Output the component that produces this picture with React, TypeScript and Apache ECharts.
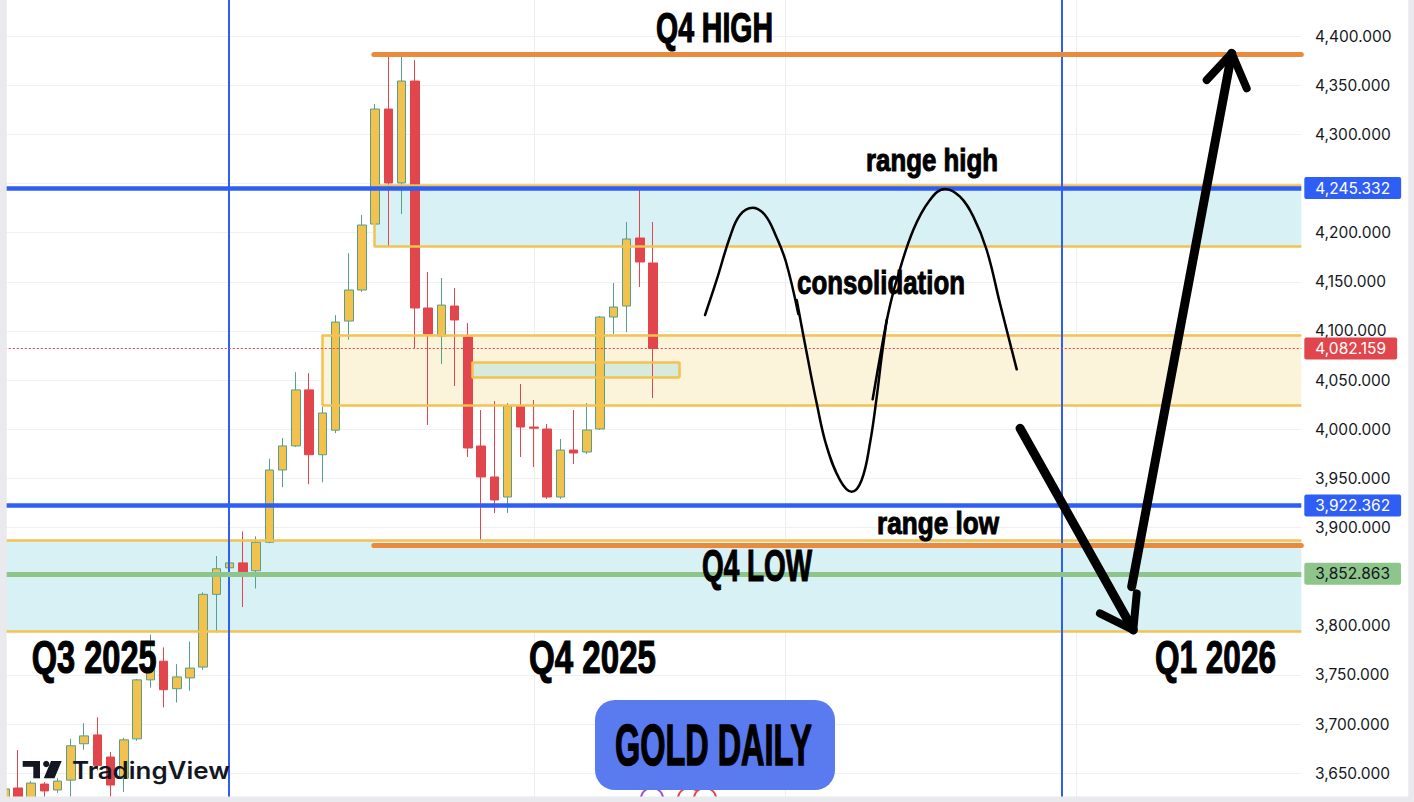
import React, { useEffect, useRef } from "react";
import * as echarts from "echarts";

// Trading-day slots: filled candles on the left, empty future space on the right
const SLOTS: string[] = Array.from({ length: 99 }, (_, i) => `${i + 1}`);

// Daily candles, [open, close, low, high]
const CANDLES: number[][] = [
  [3618, 3634, 3612, 3638],
  [3635, 3620, 3612, 3673.6],
  [3622, 3640, 3615, 3642],
  [3639, 3632, 3623, 3641],
  [3633, 3642, 3630, 3645],
  [3643, 3678, 3626, 3685],
  [3680, 3688, 3674, 3701],
  [3689, 3658, 3653, 3707],
  [3666.5, 3638, 3626, 3671.6],
  [3645, 3684, 3631, 3686],
  [3685, 3745, 3683, 3746],
  [3745, 3757, 3737, 3791],
  [3764, 3735, 3717, 3778],
  [3736, 3748, 3722, 3761],
  [3747, 3757, 3734, 3784],
  [3758, 3832, 3755, 3834],
  [3832, 3858, 3793, 3871],
  [3859, 3864, 3857, 3894],
  [3864, 3855, 3819, 3896],
  [3856, 3885, 3838, 3891],
  [3885, 3958.5, 3884, 3970],
  [3958.5, 3983, 3941, 3991],
  [3983, 4040, 3982, 4058],
  [4040, 3974, 3944, 4057],
  [3974, 4016.5, 3946, 4023],
  [3999, 4109, 3996, 4116],
  [4110, 4141.6, 4091, 4179],
  [4141.6, 4207.7, 4139.6, 4218],
  [4208.7, 4325.7, 4199.6, 4330.8],
  [4325.7, 4250.5, 4185.3, 4379.7],
  [4250.5, 4354.2, 4218.9, 4381],
  [4354.2, 4123.3, 4082.6, 4375.6],
  [4123.3, 4096.8, 4004.3, 4159.9],
  [4094.8, 4126.3, 4066.3, 4153.8],
  [4125.3, 4111.1, 4043.9, 4143.6],
  [4093.8, 3980.9, 3971.7, 4108],
  [3982.9, 3951.4, 3886, 4019.5],
  [3951.4, 3928, 3914.7, 4028.7],
  [3931, 4023.6, 3914.7, 4026.6],
  [4023.6, 4002.2, 3971.7, 4045.9],
  [4002.2, 4001, 3961.5, 4029.7],
  [4000.2, 3931, 3929, 4005.3],
  [3931, 3978.8, 3929, 3990],
  [3978.8, 3975.8, 3964.6, 4019.5],
  [3976.8, 3999.2, 3974.8, 4026.6],
  [4000.2, 4114.1, 3999.2, 4115],
  [4114.1, 4124.3, 4096.8, 4148.7],
  [4125.3, 4193.5, 4098.9, 4210.8],
  [4194.5, 4170.1, 4144.7, 4244.4],
  [4169.1, 4082.159, 4031.7, 4210.8],
];

// Price scale; the outer ticks sit beyond the visible pane
const PRICE_MIN = 3600;
const PRICE_MAX = 4450;
const PRICE_STEP = 50;
// Tick labels that stay hidden (off the pane or under the support badge)
const HIDDEN_TICKS = [3600, 3850, 4450];

// Vertical guides
const MONTH_SPLITS = [40, 59, 81];
const QUARTER_SPLITS = [16.95, 79.9];

// Horizontal levels
const RANGE_HIGH = 4245.332;
const RANGE_LOW = 3922.362;
const LAST_CLOSE = 4082.159;
const SUPPORT = 3852.863;
const Q4_HIGH = 4381;
const Q4_LOW = 3882;
const Q4_LEVEL_FROM = 27.9;

// Boxes: [from slot, to slot, top price, bottom price]
const BOX_RANGE_TOP = [27.9, 98, 4248, 4186];
const BOX_VALUE_AREA = [23.96, 98, 4095.8, 4024.6];
const BOX_GAP = [35.3, 51.0, 4068.4, 4052.6];
const BOX_SUPPORT = [0, 98, 3886.8, 3794.2];

// Hand-drawn consolidation wave, [slot, price]
const WAVE_A: number[][] = [
  [52.93, 4116.2], [53.81, 4151.8], [54.82, 4195.8], [55.57, 4217.9], [56.53, 4225.3],
  [57.46, 4217.9], [58.29, 4196.5], [59.05, 4170.1], [59.98, 4117.2],
];
const WAVE_B: number[][] = [
  [59.86, 4131.4], [60.62, 4077.2], [61.37, 4026.3], [62.13, 3982.2], [63.13, 3948.3],
  [64.02, 3936.4], [64.77, 3948.3], [65.4, 3985.9], [65.91, 4033.1], [66.28, 4073.8], [66.66, 4111.1],
];
const WAVE_C: number[][] = [
  [65.6, 4030.4], [66.16, 4073.8], [66.78, 4117.9], [67.42, 4151.8], [68.67, 4202.6],
  [69.93, 4233.2], [71.07, 4244.4], [72.2, 4236.5], [73.21, 4216.2], [74.22, 4182.3],
  [75.22, 4128.1], [76.49, 4060.9],
];

// Projection arrows, [slot, price]
const DOWN_SHAFT: number[][] = [[76.74, 4000.9], [85.3, 3795.7]];
const DOWN_HEAD: number[][] = [[82.78, 3812.7], [85.3, 3795.7], [85.56, 3833.0]];
const UP_SHAFT: number[][] = [[85.18, 3839.8], [92.74, 4382.4]];
const UP_HEAD: number[][] = [[90.85, 4355.2], [92.74, 4382.4], [93.87, 4346.8]];

const BLUE = "#2f5ef5";
const ORANGE = "#e98a3c";
const GOLD_EDGE = "#f3c250";
const RED = "#e0464c";
const GREEN = "#8ec58a";
const TEAL_FILL = "#d8f1f5";
const CREAM_FILL = "#fbf3da";
const MINT_FILL = "#d7eadb";
const UP_FILL = "#f2c14e";
const UP_EDGE = "#55a08b";
const FRAME = "#e9e9ee";

const TITLE_FONT = '"Liberation Sans", Arial, sans-serif';
const UI_FONT = "Inter, Roboto, sans-serif";

function fmtPrice(v: number): string {
  const [i, d] = v.toFixed(3).split(".");
  return i.replace(/\B(?=(\d{3})+(?!\d))/g, ",") + "." + d;
}

let measureCtx: CanvasRenderingContext2D | null = null;
function measure(text: string, font: string): number {
  if (!measureCtx) measureCtx = document.createElement("canvas").getContext("2d");
  if (!measureCtx) return 1;
  measureCtx.font = font;
  return measureCtx.measureText(text).width || 1;
}

function fittedText(
  text: string,
  cx: number,
  cy: number,
  size: number,
  width: number,
  opts: { family?: string; weight?: string | number; color?: string; stroke?: number } = {}
) {
  const family = opts.family ?? TITLE_FONT;
  const weight = opts.weight ?? "bold";
  const color = opts.color ?? "#000";
  const natural = measure(text, `${weight} ${size}px ${family}`);
  return {
    type: "text",
    x: cx,
    y: cy,
    scaleX: width / natural,
    z: 60,
    silent: true,
    style: {
      text,
      fontFamily: family,
      fontWeight: weight,
      fontSize: size,
      fill: color,
      stroke: opts.stroke ? color : undefined,
      lineWidth: opts.stroke ?? 0,
      align: "center",
      verticalAlign: "middle",
    },
  };
}

function boxArea(box: number[], fill: string) {
  return [
    { coord: [box[0], box[2]], itemStyle: { color: fill } },
    { coord: [box[1], box[3]] },
  ];
}

function boxEdges(box: number[], left: boolean, right: boolean) {
  const [x0, x1, top, bottom] = box;
  const edges: any[] = [
    [{ coord: [x0, top] }, { coord: [x1, top] }],
    [{ coord: [x0, bottom] }, { coord: [x1, bottom] }],
  ];
  if (left) edges.push([{ coord: [x0, bottom] }, { coord: [x0, top] }]);
  if (right) edges.push([{ coord: [x1, bottom] }, { coord: [x1, top] }]);
  return edges;
}

function badge(bg: string, fg: string, value: number) {
  return {
    show: true,
    position: "end",
    distance: 3,
    formatter: fmtPrice(value),
    color: fg,
    backgroundColor: bg,
    padding: [3, 11, 3, 11],
    borderRadius: 2,
    fontFamily: UI_FONT,
    fontSize: 15.5,
    lineHeight: 16,
  };
}

function strokeSeries(data: number[][], width: number, smooth: number | boolean) {
  return {
    type: "line",
    xAxisIndex: 1,
    yAxisIndex: 0,
    data,
    smooth,
    symbol: "none",
    silent: true,
    z: 5,
    lineStyle: { color: "#000", width, cap: "round", join: "round" },
  };
}

export default function App() {
  const ref = useRef<HTMLDivElement | null>(null);

  useEffect(() => {
    if (!ref.current) return;
    const chart = echarts.init(ref.current, undefined, { renderer: "svg" });

    const gridLeft = 4.77;
    const gridWidth = 1296.54;
    const pxPerPrice = 0.983;
    const gridTop = 36 - (PRICE_MAX - 4400) * pxPerPrice;
    const gridHeight = (PRICE_MAX - PRICE_MIN) * pxPerPrice;

    const option: any = {
      animation: false,
      backgroundColor: "#ffffff",
      grid: {
        left: gridLeft,
        width: gridWidth,
        top: gridTop,
        height: gridHeight,
        containLabel: false,
        outerBoundsMode: "none",
      },
      xAxis: [
        {
          type: "category",
          data: SLOTS,
          boundaryGap: false,
          axisLine: { show: false },
          axisTick: { show: false },
          axisLabel: { show: false },
          splitLine: {
            show: true,
            interval: (i: number) => MONTH_SPLITS.includes(i),
            lineStyle: { color: "#eeeef1", width: 1 },
          },
        },
        { type: "value", min: 0, max: SLOTS.length - 1, show: false },
      ],
      yAxis: {
        type: "value",
        position: "right",
        min: PRICE_MIN,
        max: PRICE_MAX,
        interval: PRICE_STEP,
        axisLine: { show: false },
        axisTick: { show: false },
        splitLine: { show: true, lineStyle: { color: "#f0f0f3", width: 1 } },
        axisLabel: {
          margin: 13.7,
          align: "left",
          color: "#131722",
          fontFamily: UI_FONT,
          fontSize: 15.5,
          formatter: (v: number) => (HIDDEN_TICKS.includes(v) ? "" : fmtPrice(v)),
        },
      },
      series: [
        {
          // shaded boxes behind the candles
          type: "line",
          xAxisIndex: 1,
          data: [],
          z: 1,
          silent: true,
          markArea: {
            silent: true,
            data: [
              boxArea(BOX_RANGE_TOP, TEAL_FILL),
              boxArea(BOX_VALUE_AREA, CREAM_FILL),
              boxArea(BOX_GAP, MINT_FILL),
              boxArea(BOX_SUPPORT, TEAL_FILL),
            ],
          },
          markLine: {
            silent: true,
            symbol: "none",
            label: { show: false },
            lineStyle: { color: GOLD_EDGE, width: 2.5, type: "solid" },
            data: [
              ...boxEdges(BOX_RANGE_TOP, true, false),
              ...boxEdges(BOX_VALUE_AREA, true, false),
              ...boxEdges(BOX_GAP, true, true),
              ...boxEdges(BOX_SUPPORT, false, false),
            ],
          },
        },
        {
          type: "candlestick",
          xAxisIndex: 0,
          yAxisIndex: 0,
          data: CANDLES,
          barWidth: 9,
          z: 2,
          silent: true,
          itemStyle: {
            color: UP_FILL,
            color0: RED,
            borderColor: UP_EDGE,
            borderColor0: RED,
            borderWidth: 1,
          },
        },
        {
          // price levels and quarter separators
          type: "line",
          xAxisIndex: 1,
          data: [],
          z: 3,
          silent: true,
          markLine: {
            silent: true,
            symbol: "none",
            label: { show: false },
            data: [
              { xAxis: QUARTER_SPLITS[0], lineStyle: { color: BLUE, width: 2, type: "solid" } },
              { xAxis: QUARTER_SPLITS[1], lineStyle: { color: BLUE, width: 2, type: "solid" } },
              [
                { coord: [Q4_LEVEL_FROM, Q4_HIGH], lineStyle: { color: ORANGE, width: 5, type: "solid", cap: "round" } },
                { coord: [SLOTS.length - 1, Q4_HIGH] },
              ],
              [
                { coord: [Q4_LEVEL_FROM, Q4_LOW], lineStyle: { color: ORANGE, width: 5, type: "solid", cap: "round" } },
                { coord: [SLOTS.length - 1, Q4_LOW] },
              ],
              { yAxis: SUPPORT, lineStyle: { color: GREEN, width: 5, type: "solid" }, label: badge(GREEN, "#131722", SUPPORT) },
              { yAxis: LAST_CLOSE, lineStyle: { color: RED, width: 1, type: [2, 2] }, label: badge(RED, "#ffffff", LAST_CLOSE) },
              { yAxis: RANGE_HIGH, lineStyle: { color: BLUE, width: 4.5, type: "solid" }, label: badge(BLUE, "#ffffff", RANGE_HIGH) },
              { yAxis: RANGE_LOW, lineStyle: { color: BLUE, width: 4.5, type: "solid" }, label: badge(BLUE, "#ffffff", RANGE_LOW) },
            ],
          },
        },
        strokeSeries(WAVE_A, 2.5, 0.4),
        strokeSeries(WAVE_B, 2.5, 0.4),
        strokeSeries(WAVE_C, 2.5, 0.4),
        strokeSeries(DOWN_SHAFT, 9, false),
        strokeSeries(DOWN_HEAD, 8, false),
        strokeSeries(UP_SHAFT, 9, false),
        strokeSeries(UP_HEAD, 8, false),
      ],
      graphic: [
        fittedText("Q4 HIGH", 714.5, 27.6, 43, 117, { stroke: 1.2 }),
        fittedText("range high", 932, 160, 31, 132, { stroke: 1 }),
        fittedText("consolidation", 881, 282, 34, 168, { stroke: 1 }),
        fittedText("range low", 938, 523, 31, 122, { stroke: 1 }),
        fittedText("Q4 LOW", 757, 566, 44, 110, { stroke: 1.2 }),
        fittedText("Q3 2025", 94.2, 657, 47, 125, { stroke: 1.2 }),
        fittedText("Q4 2025", 592.5, 657, 47, 127, { stroke: 1.2 }),
        fittedText("Q1 2026", 1215.5, 657, 47, 121, { stroke: 1.2 }),
        // event markers peeking above the bottom edge
        { type: "circle", z: 55, silent: true, shape: { cx: 652, cy: 799, r: 11 }, style: { fill: "#fff", stroke: "#9a4fd4", lineWidth: 2 } },
        { type: "circle", z: 55, silent: true, shape: { cx: 689, cy: 799, r: 11 }, style: { fill: "#fff", stroke: "#e5484f", lineWidth: 2 } },
        { type: "circle", z: 55, silent: true, shape: { cx: 705, cy: 799, r: 11 }, style: { fill: "#fff", stroke: "#e5484f", lineWidth: 2 } },
        // title badge
        { type: "rect", z: 58, silent: true, shape: { x: 595, y: 700, width: 240, height: 90, r: 20 }, style: { fill: "#5a7af0" } },
        fittedText("GOLD DAILY", 713.5, 744.2, 58, 197, { stroke: 1.5 }),
        // TradingView watermark
        { type: "rect", z: 60, silent: true, shape: { x: 22.7, y: 761, width: 17.3, height: 5.8 }, style: { fill: "#131722" } },
        { type: "rect", z: 60, silent: true, shape: { x: 33.3, y: 761, width: 6.7, height: 17.3 }, style: { fill: "#131722" } },
        { type: "circle", z: 60, silent: true, shape: { cx: 46.2, cy: 764, r: 3.1 }, style: { fill: "#131722" } },
        { type: "polygon", z: 60, silent: true, shape: { points: [[51, 761], [61.7, 761], [54.5, 778.3], [43.8, 778.3]] }, style: { fill: "#131722" } },
        fittedText("TradingView", 151, 770.8, 24, 158, { family: UI_FONT, weight: 600, color: "#131722" }),
        // window frame
        { type: "rect", z: 90, silent: true, shape: { x: 0, y: 0, width: 6.7, height: 802 }, style: { fill: FRAME } },
        { type: "rect", z: 90, silent: true, shape: { x: 0, y: 796.5, width: 1414, height: 5.5 }, style: { fill: FRAME } },
        { type: "rect", z: 90, silent: true, shape: { x: 1408.3, y: 0, width: 5.7, height: 802 }, style: { fill: FRAME } },
      ],
    };

    chart.setOption(option);
    return () => chart.dispose();
  }, []);

  return (
    <div
      ref={ref}
      style={{ position: "fixed", left: 0, top: 0, width: 1414, height: 802, background: "#fff" }}
    />
  );
}
